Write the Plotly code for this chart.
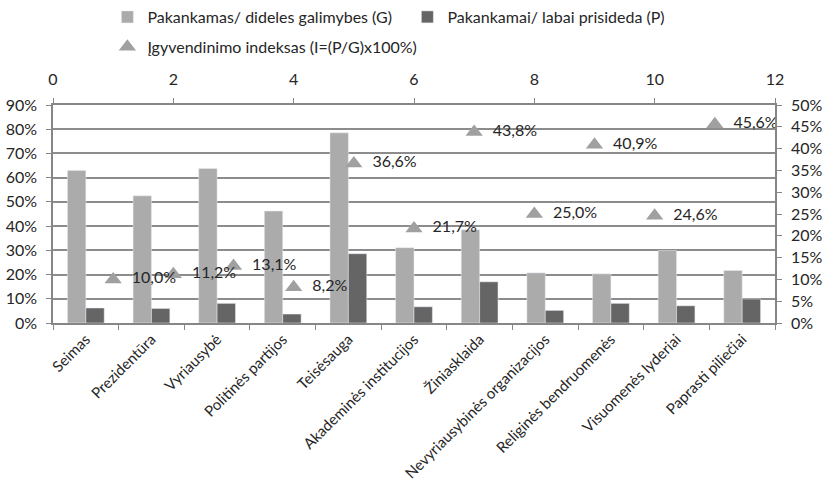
import plotly.graph_objects as go

# duomenys
categories = ['Seimas', 'Prezidentūra', 'Vyriausybė', 'Politinės partijos', 'Teisėsauga',
              'Akademinės institucijos', 'Žiniasklaida', 'Nevyriausybinės organizacijos',
              'Religinės bendruomenės', 'Visuomenės lyderiai', 'Paprasti piliečiai']
g_values = [0.63, 0.525, 0.638, 0.462, 0.785, 0.311, 0.385, 0.207, 0.203, 0.299, 0.217]
p_values = [0.062, 0.060, 0.081, 0.037, 0.286, 0.067, 0.170, 0.052, 0.081, 0.071, 0.099]
index_x = [1, 2, 3, 4, 5, 6, 7, 8, 9, 10, 11]
index_values = [0.100, 0.112, 0.131, 0.082, 0.366, 0.217, 0.438, 0.250, 0.409, 0.246, 0.456]
index_labels = ['10,0%', '11,2%', '13,1%', '8,2%', '36,6%', '21,7%', '43,8%',
                '25,0%', '40,9%', '24,6%', '45,6%']

FONT = 'Lato'
FS = 16
AXIS = '#868686'
TXT = '#262626'

fig = go.Figure()
fig.add_trace(go.Bar(
    x=categories, y=g_values, name='Pakankamas/ dideles galimybes (G)',
    marker=dict(color='#ababab'), legend='legend'
))
fig.add_trace(go.Bar(
    x=categories, y=p_values, name='Pakankamai/ labai prisideda (P)',
    marker=dict(color='#656565'), legend='legend'
))
fig.add_trace(go.Scatter(
    x=index_x, y=index_values, xaxis='x2', yaxis='y2',
    mode='markers+text', text=['\u00a0\u00a0' + t for t in index_labels],
    textposition='middle right',
    textfont=dict(size=FS, color=TXT, family=FONT),
    marker=dict(symbol='triangle-up', size=15, color='#a0a0a0'),
    name='Įgyvendinimo indeksas (I=(P/G)x100%)', legend='legend2'
))

fig.update_layout(
    width=826, height=497,
    paper_bgcolor='white', plot_bgcolor='white',
    font=dict(family=FONT, size=FS, color=TXT),
    barmode='group', bargap=0.44, bargroupgap=0,
    margin=dict(l=53, r=51, t=105, b=174),
    legend=dict(orientation='h', xref='container', x=0.13, xanchor='left',
                yref='container', y=1.0, yanchor='top', entrywidth=255,
                font=dict(size=FS, family=FONT, color=TXT), bgcolor='rgba(0,0,0,0)'),
    legend2=dict(orientation='h', xref='container', x=0.13, xanchor='left',
                 yref='container', y=0.94, yanchor='top',
                 font=dict(size=FS, family=FONT, color=TXT), bgcolor='rgba(0,0,0,0)'),
    xaxis=dict(type='category', tickangle=-45, showline=True, linecolor=AXIS, linewidth=1.5,
               ticks='outside', tickson='boundaries', ticklen=5, tickcolor=AXIS,
               showgrid=False, tickfont=dict(size=15), automargin=False),
    yaxis=dict(range=[0, 0.9], dtick=0.1, tickformat='.0%', showgrid=True,
               gridcolor='#8c8c8c', gridwidth=1.5, zeroline=False, showline=True,
               linecolor=AXIS, linewidth=1.5, ticks='outside', ticklen=5, tickcolor=AXIS,
               ticklabelstandoff=6, automargin=False),
    xaxis2=dict(overlaying='x', side='top', range=[0, 12], dtick=2, showgrid=False,
                zeroline=False, showline=True, linecolor=AXIS, linewidth=1.5,
                ticks='outside', ticklen=5, tickcolor=AXIS, ticklabelstandoff=7,
                automargin=False),
    yaxis2=dict(overlaying='y', side='right', range=[0, 0.5], dtick=0.05, tickformat='.0%',
                showgrid=False, zeroline=False, showline=True, linecolor=AXIS, linewidth=1.5,
                ticks='outside', ticklen=5, tickcolor=AXIS, ticklabelstandoff=6,
                automargin=False),
)

# bez numatytojo puslapio paraštės
fig.write_html('out.html', config={'displayModeBar': False},
               post_script="document.body.style.margin='0px';")
